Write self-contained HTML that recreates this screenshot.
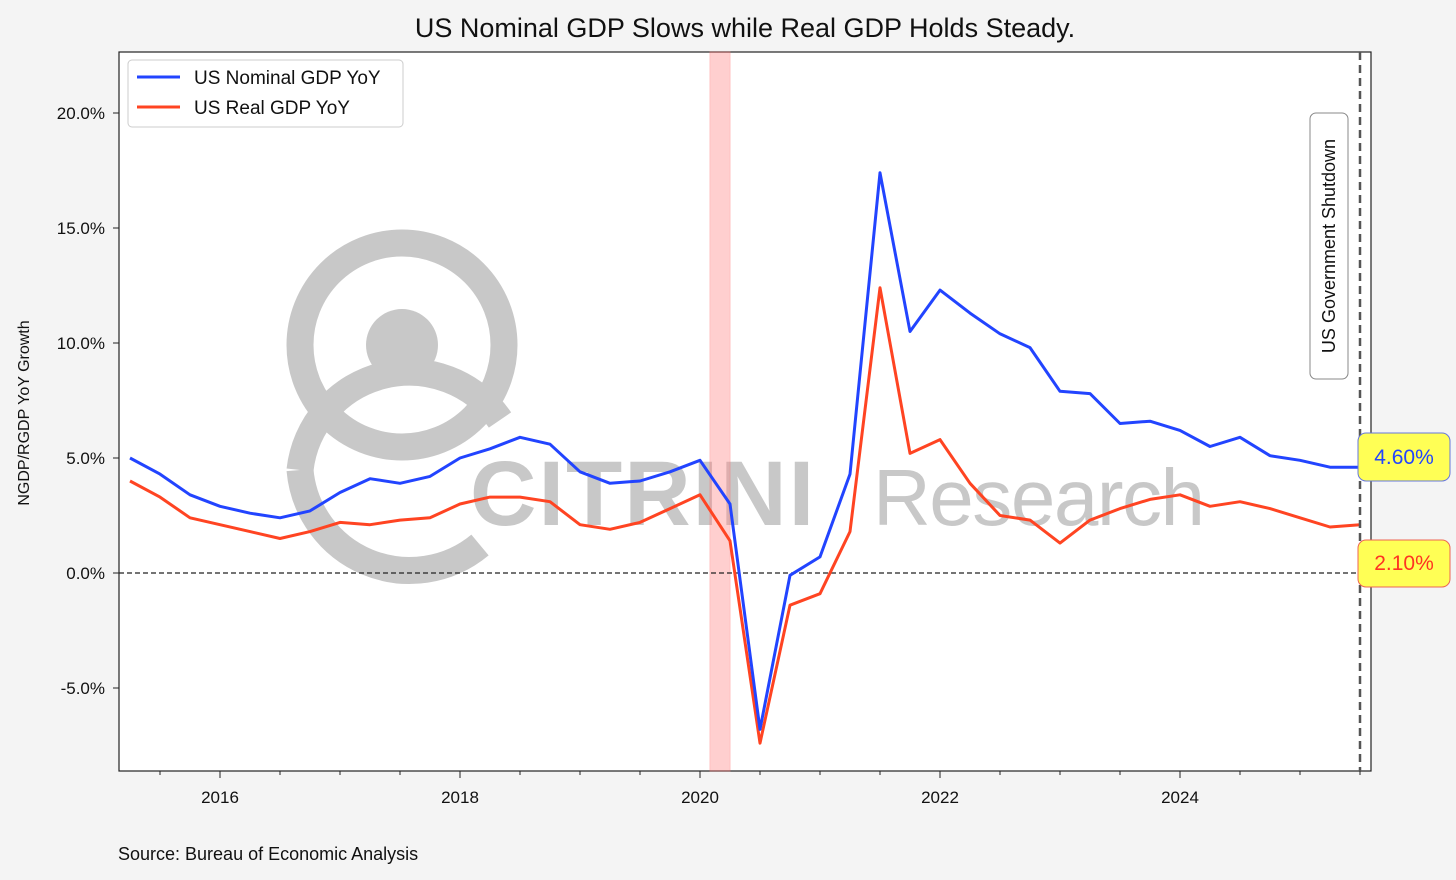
<!DOCTYPE html>
<html><head><meta charset="utf-8"><style>
html,body{margin:0;padding:0;background:#f4f4f4;width:1456px;height:880px;overflow:hidden}
svg{display:block;font-family:"Liberation Sans",sans-serif}
</style></head><body>
<svg id="chart" width="1456" height="880">
<text x="745" y="37" font-size="27" text-anchor="middle" fill="#111">US Nominal GDP Slows while Real GDP Holds Steady.</text>
<rect x="119" y="52" width="1252" height="719" fill="#fff" stroke="#222" stroke-width="1.2"/>
<g id="wm">
<circle cx="402" cy="345" r="102" fill="none" stroke="#c8c8c8" stroke-width="27"/>
<circle cx="402" cy="345" r="36" fill="#c8c8c8"/>
<path d="M300 470 A110 110 0 0 1 500 420" fill="none" stroke="#c8c8c8" stroke-width="27"/>
<path d="M300 470 A110 110 0 0 0 480 545" fill="none" stroke="#c8c8c8" stroke-width="27"/>
<text x="470" y="525" font-size="92" font-weight="bold" fill="#c8c8c8" letter-spacing="2">CITRINI</text>
<text x="873" y="525" font-size="80" fill="#c8c8c8" textLength="332">Research</text>
</g>
<rect x="710" y="52" width="20" height="719" fill="#f88" opacity="0.4" stroke="#f66"/>
<g id="axes"></g>
<g id="series"></g>
<line x1="1360" y1="52" x2="1360" y2="771" stroke="#555" stroke-width="2.5" stroke-dasharray="8,5"/>
<rect x="1310" y="113" width="38" height="266" rx="6" fill="#fff" stroke="#888"/>
<text transform="translate(1335,246) rotate(-90)" font-size="18" text-anchor="middle" fill="#111">US Government Shutdown</text>
<g>
<rect x="128" y="60" width="275" height="67" rx="4" fill="#fff" stroke="#ccc"/>
<line x1="137" y1="77" x2="180" y2="77" stroke="#2244ff" stroke-width="3"/>
<text x="194" y="84" font-size="19" fill="#111">US Nominal GDP YoY</text>
<line x1="137" y1="107" x2="180" y2="107" stroke="#ff4422" stroke-width="3"/>
<text x="194" y="114" font-size="19" fill="#111">US Real GDP YoY</text>
</g>
<rect x="1358" y="433" width="92" height="48" rx="8" fill="#ffff55" stroke="#6677dd"/>
<text x="1404" y="464" font-size="21" text-anchor="middle" fill="#2244ff">4.60%</text>
<rect x="1358" y="540" width="92" height="47" rx="8" fill="#ffff55" stroke="#ee6655"/>
<text x="1404" y="570" font-size="21" text-anchor="middle" fill="#ff3322">2.10%</text>
<text transform="translate(29,413) rotate(-90)" font-size="16" text-anchor="middle" fill="#111">NGDP/RGDP YoY Growth</text>
<text x="118" y="860" font-size="18" fill="#111">Source: Bureau of Economic Analysis</text>
</svg>
<script>
const quarters=[2015.25,2015.5,2015.75,2016,2016.25,2016.5,2016.75,2017,2017.25,2017.5,2017.75,2018,2018.25,2018.5,2018.75,2019,2019.25,2019.5,2019.75,2020,2020.25,2020.5,2020.75,2021,2021.25,2021.5,2021.75,2022,2022.25,2022.5,2022.75,2023,2023.25,2023.5,2023.75,2024,2024.25,2024.5,2024.75,2025,2025.25,2025.5];
const nominal=[5.0,4.3,3.4,2.9,2.6,2.4,2.7,3.5,4.1,3.9,4.2,5.0,5.4,5.9,5.6,4.4,3.9,4.0,4.4,4.9,3.0,-6.8,-0.1,0.7,4.3,17.4,10.5,12.3,11.3,10.4,9.8,7.9,7.8,6.5,6.6,6.2,5.5,5.9,5.1,4.9,4.6,4.6];
const real=[4.0,3.3,2.4,2.1,1.8,1.5,1.8,2.2,2.1,2.3,2.4,3.0,3.3,3.3,3.1,2.1,1.9,2.2,2.8,3.4,1.4,-7.4,-1.4,-0.9,1.8,12.4,5.2,5.8,3.9,2.5,2.3,1.3,2.3,2.8,3.2,3.4,2.9,3.1,2.8,2.4,2.0,2.1];
const yTicks=[-5,0,5,10,15,20];
const xTicks=[2016,2018,2020,2022,2024];
const X=t=>220+(t-2016)*120;
const Y=v=>573-v*23;
const NS="http://www.w3.org/2000/svg";
const ax=document.getElementById('axes'),se=document.getElementById('series');
function mk(tag,attrs,parent,txt){const e=document.createElementNS(NS,tag);for(const k in attrs)e.setAttribute(k,attrs[k]);if(txt!==undefined)e.textContent=txt;parent.appendChild(e);return e;}
yTicks.forEach(v=>{
 const l=mk('line',{x1:113,x2:119,y1:Y(v),y2:Y(v),stroke:'#222'},ax);
 
 
 const t=mk('text',{x:105,y:Y(v)+6,'font-size':17,'text-anchor':'end',fill:'#111'},ax,v.toFixed(1)+'%');
 
 
});
for(let yr=2015.5;yr<=2025.5;yr+=0.5){
 const major=xTicks.includes(yr);
 const l=mk('line',{x1:X(yr),x2:X(yr),y1:771,y2:major?778:775,stroke:'#222'},ax);
 
 
}
xTicks.forEach(yr=>{
 const t=mk('text',{x:X(yr),y:803,'font-size':17,'text-anchor':'middle',fill:'#111'},ax,String(yr));
 
 
});
const z=mk('line',{x1:119,x2:1371,y1:Y(0),y2:Y(0),stroke:'#222','stroke-dasharray':'5,3','stroke-width':1.2},ax);


function line(vals,color,name){
 const d=vals.map((v,i)=>(i?'L':'M')+X(quarters[i]).toFixed(1)+' '+Y(v).toFixed(1)).join(' ');
 const p=mk('path',{d:d,fill:'none',stroke:color,'stroke-width':3,'stroke-linejoin':'round'},se);
 
 
}
line(real,'#ff4422','real-gdp-line');
line(nominal,'#2244ff','nominal-gdp-line');
</script>
</body></html>
